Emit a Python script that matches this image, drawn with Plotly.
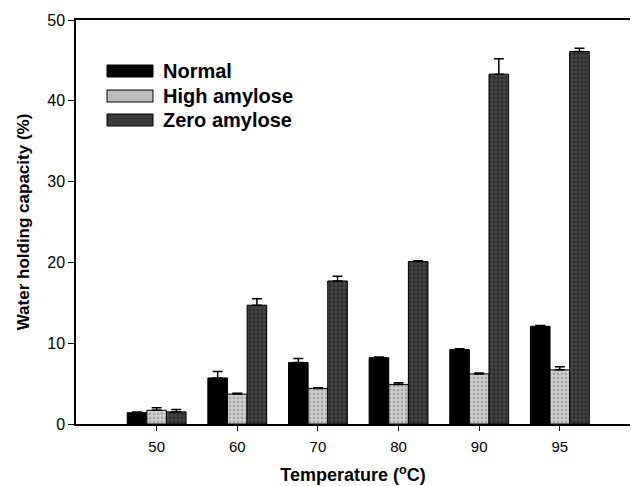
import plotly.graph_objects as go

temps = ["50", "60", "70", "80", "90", "95"]
series = ["Normal", "High amylose", "Zero amylose"]
normal = [1.4, 5.7, 7.6, 8.2, 9.2, 12.1]
normal_err = [0.1, 0.8, 0.5, 0.1, 0.1, 0.1]
high = [1.7, 3.7, 4.4, 4.9, 6.2, 6.7]
high_err = [0.3, 0.1, 0.1, 0.2, 0.1, 0.4]
zero = [1.5, 14.7, 17.7, 20.1, 43.3, 46.1]
zero_err = [0.3, 0.8, 0.6, 0.1, 1.9, 0.4]

values = [normal, high, zero]
errors = [normal_err, high_err, zero_err]
bg = ["#000000", "#d2d2d2", "#444444"]
fg = ["#000000", "#7a7a7a", "#111111"]
swatch = ["#000000", "#bdbdbd", "#3a3a3a"]

xpos = list(range(1, len(temps) + 1))

fig = go.Figure()
for i, name in enumerate(series):
    pattern = dict(shape="." if i > 0 else "", bgcolor=bg[i], fgcolor=fg[i], size=4, solidity=0.4)
    fig.add_trace(go.Bar(
        x=xpos, y=values[i], name=name,
        marker=dict(color=bg[i], line=dict(color="#000000", width=1), pattern=pattern),
        error_y=dict(type="data", array=errors[i], arrayminus=[0] * len(temps), symmetric=False,
                     color="#000000", thickness=1.5, width=5),
        showlegend=False,
    ))

# custom legend (wide swatches, as in reference)
leg_y = [71, 96, 120]
for i, name in enumerate(series):
    yc = 1 - (leg_y[i] - 20) / 404
    fig.add_shape(type="rect", xref="paper", yref="paper",
                  x0=(107 - 76) / 554, x1=(153 - 76) / 554,
                  y0=yc - 6 / 404, y1=yc + 6 / 404,
                  fillcolor=swatch[i], line=dict(color="#000000", width=1))
    fig.add_annotation(xref="paper", yref="paper", x=(161 - 76) / 554, y=yc,
                       text="<b>" + name + "</b>", showarrow=False, xanchor="left", yanchor="middle",
                       font=dict(family="Liberation Sans, Arial", size=20, color="#000000"))

fig.update_layout(
    width=631, height=486,
    margin=dict(l=76, r=1, t=20, b=62),
    paper_bgcolor="white", plot_bgcolor="white",
    barmode="group", bargap=0.27, bargroupgap=0,
    font=dict(family="Liberation Sans, Arial", size=15, color="#000000"),
    xaxis=dict(range=[0, 6.87], tickvals=xpos, ticktext=temps, showgrid=False, zeroline=False,
               showline=True, linecolor="#000000", linewidth=1.5, mirror=True,
               ticks="outside", ticklen=5, tickcolor="#000000", tickfont=dict(size=15),
               ticklabelstandoff=3,
               title=dict(text="<b>Temperature (<sup>o</sup>C)</b>", font=dict(size=18), standoff=15)),
    yaxis=dict(range=[0, 50], tickvals=[0, 10, 20, 30, 40, 50], showgrid=False, zeroline=False,
               showline=True, linecolor="#000000", linewidth=1.5,
               ticks="outside", ticklen=6, tickcolor="#000000", tickfont=dict(size=16),
               title=dict(text="<b>Water holding capacity (%)</b>", font=dict(size=17), standoff=13)),
)

fig.write_html("out.html")
